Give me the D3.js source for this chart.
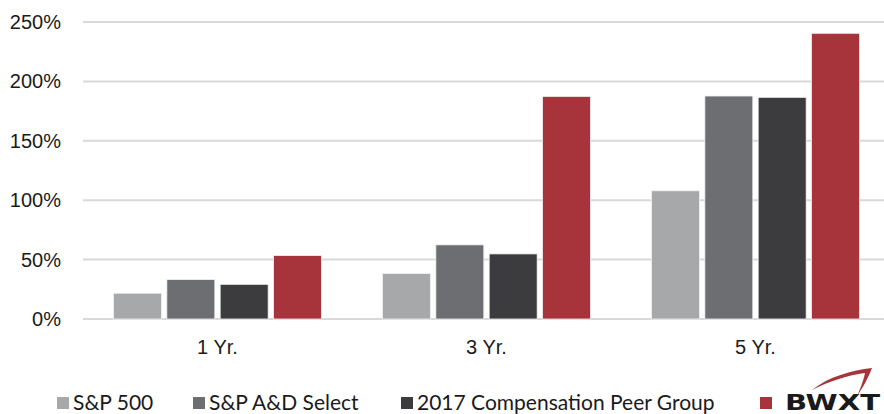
<!DOCTYPE html>
<html>
<head>
<meta charset="utf-8">
<script src="https://cdn.jsdelivr.net/npm/d3@7/dist/d3.min.js"></script>
<style>
	body { margin: 0; background: #fff; }
	svg { display: block; font-family: Lato, "Open Sans", sans-serif; }
	.grid line { stroke: #d9d9d9; stroke-width: 2; }
	.axis text { fill: #1a1a1a; font-size: 20px; }
	.legend text { fill: #1a1a1a; font-size: 21px; }
</style>
</head>
<body>
<svg id="chart" width="884" height="414"></svg>
<script>
'use strict';

const periods = ['1 Yr.', '3 Yr.', '5 Yr.'];
const seriesNames = ['S&P 500', 'S&P A&D Select', '2017 Compensation Peer Group', 'BWXT'];
const sp500 = [21.7, 38.3, 107.9];
const spAD = [33.2, 62.4, 187.7];
const peerGroup = [29.2, 54.8, 186.6];
const bwxt = [53.4, 187.4, 240.5];
const yTicks = [0, 50, 100, 150, 200, 250];
const colors = ['#a7a8aa', '#6d6e71', '#3c3c3e', '#a8343b'];

const series = [sp500, spAD, peerGroup, bwxt];
const rows = periods.map((p, i) => ({ period: p, values: series.map(s => s[i]) }));

const svg = d3.select('#chart'),
	margin = { left: 83, right: -6, top: 22, bottom: 95 },
	width = 884 - margin.left - margin.right,
	height = 414 - margin.top - margin.bottom,
	g = svg.append('g').attr('transform', `translate(${margin.left},${margin.top})`);

const x0 = d3.scaleBand().domain(periods).range([0, width]).paddingInner(0.227).paddingOuter(0.1135),
	x1 = d3.scaleBand().domain(d3.range(series.length)).range([0, x0.bandwidth()]).paddingInner(0.1).paddingOuter(0),
	y = d3.scaleLinear().domain([0, 250]).range([height, 0]);

// gridlines
g.append('g').attr('class', 'grid')
	.selectAll('line').data(yTicks).enter().append('line')
		.attr('x1', 0).attr('x2', width + 10)
		.attr('y1', d => y(d)).attr('y2', d => y(d));

// y labels
g.append('g').attr('class', 'axis')
	.call(d3.axisLeft(y).tickValues(yTicks).tickFormat(d => d + '%').tickSize(0).tickPadding(22))
	.call(a => a.select('.domain').remove())
	.selectAll('text').attr('font-family', null).attr('font-size', null);

// bars
g.append('g').selectAll('g').data(rows).enter().append('g')
	.attr('transform', d => `translate(${x0(d.period)},0)`)
	.selectAll('rect').data(d => d.values).enter().append('rect')
		.attr('x', (d, i) => x1(i))
		.attr('width', x1.bandwidth())
		.attr('y', d => y(d))
		.attr('height', d => y(0) - y(d))
		.attr('fill', (d, i) => colors[i])
		.attr('stroke', '#f2f2f2')
		.attr('stroke-width', 0.8);

// x labels
g.append('g').attr('class', 'axis')
	.attr('transform', `translate(0,${height})`)
	.call(d3.axisBottom(x0).tickSize(0).tickPadding(21))
	.call(a => a.select('.domain').remove())
	.selectAll('text').attr('font-family', null).attr('font-size', null);

// legend, item offsets match the reference layout
const legendX = [57, 193, 401, 760];
const legend = svg.append('g').attr('class', 'legend').attr('transform', 'translate(0,410)');
seriesNames.forEach((name, i) => {
	const item = legend.append('g').attr('transform', `translate(${legendX[i]},0)`);
	item.append('rect').attr('x', 0).attr('y', -13).attr('width', 12).attr('height', 12).attr('fill', colors[i]);
	if (name === 'BWXT') {
		// logo in place of a text label
		item.append('text').attr('x', 25).attr('y', 0)
			.attr('font-family', '"DejaVu Sans", sans-serif')
			.attr('font-weight', 'bold').attr('font-size', 28)
			.attr('textLength', 95).attr('lengthAdjust', 'spacingAndGlyphs')
			.attr('fill', '#6d6e71')
			.text(name);
		item.append('path')
			.attr('d', 'M52,-20 C68,-33 92,-40 112,-42 C108,-32 104,-24 97,-14 C102,-25 104,-32 105,-37 C88,-35 70,-29 52,-20 Z')
			.attr('fill', '#a8343b');
	} else {
		item.append('text').attr('x', 16).attr('y', 0).text(name);
	}
});
</script>
</body>
</html>
